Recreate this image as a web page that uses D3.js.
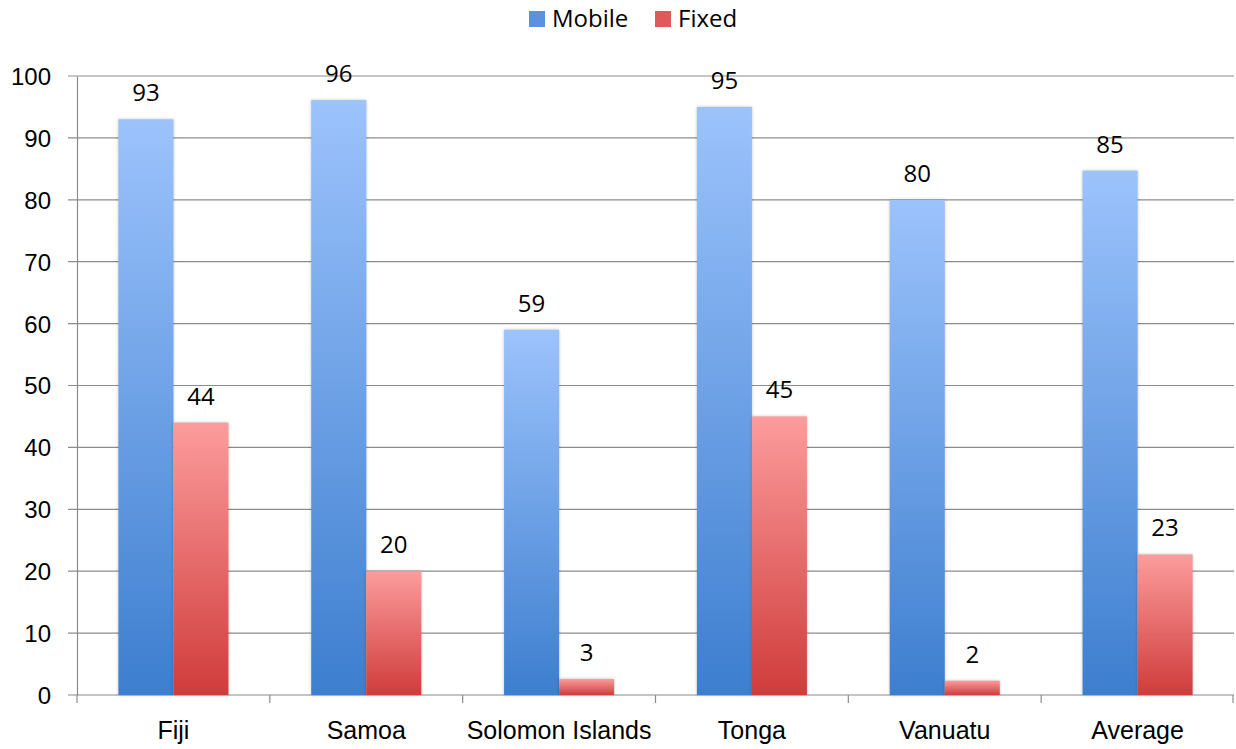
<!DOCTYPE html>
<html>
<head>
<meta charset="utf-8">
<script src="https://cdnjs.cloudflare.com/ajax/libs/d3/7.8.5/d3.min.js"></script>
<style>
  html, body { margin: 0; padding: 0; background: #fff; }
  svg { display: block; font-family: "Open Sans", "Noto Sans", sans-serif; }
</style>
</head>
<body>
<svg id="chart" width="1236" height="749"></svg>
<script>
// Mobile vs fixed connection figures for Pacific island countries
const categories = ["Fiji", "Samoa", "Solomon Islands", "Tonga", "Vanuatu", "Average"];
const seriesNames = ["Mobile", "Fixed"];
const mobile = [93, 96.1, 59, 95, 80, 84.7];
const fixed = [44, 20, 2.6, 45, 2.3, 22.7];
const yTicks = [0, 10, 20, 30, 40, 50, 60, 70, 80, 90, 100];

const svg = d3.select("#chart");
const margin = { left: 77, right: 2, top: 76, bottom: 54 };
const W = 1236, H = 749;

const x = d3.scaleBand().domain(categories).range([margin.left, W - margin.right]).paddingInner(0).paddingOuter(0);
const y = d3.scaleLinear().domain([0, 100]).range([H - margin.bottom, margin.top]);

const defs = svg.append("defs");
function grad(id, top, bottom) {
  const g = defs.append("linearGradient").attr("id", id).attr("x1", 0).attr("y1", 0).attr("x2", 0).attr("y2", 1);
  g.append("stop").attr("offset", "0%").attr("stop-color", top);
  g.append("stop").attr("offset", "100%").attr("stop-color", bottom);
}
grad("gMobile", "#9cc3fc", "#3d7ecf");
grad("gFixed", "#fc9c9c", "#cf3c3b");
const fills = { Mobile: "url(#gMobile)", Fixed: "url(#gFixed)" };
const swatch = { Mobile: "#5b92de", Fixed: "#e05a5a" };

// gridlines
svg.append("g").selectAll("line").data(yTicks).join("line")
  .attr("x1", margin.left - 9).attr("x2", W - margin.right)
  .attr("y1", d => y(d)).attr("y2", d => y(d))
  .attr("stroke", "#8c8c8c").attr("stroke-width", 1.2);

// y axis
const yAxis = d3.axisLeft(y).tickValues(yTicks).tickSize(0).tickPadding(26);
const yg = svg.append("g").attr("transform", `translate(${margin.left},0)`).call(yAxis);
yg.select(".domain").attr("stroke", "#8c8c8c").attr("stroke-width", 1.2);
yg.selectAll("text").attr("font-size", 24).attr("fill", "#000").attr("dy", "0.35em");

// x axis boundary ticks
const bounds = categories.map(c => x(c)).concat([W - margin.right - 1]);
svg.append("g").selectAll("line").data(bounds).join("line")
  .attr("x1", d => d).attr("x2", d => d)
  .attr("y1", y(0)).attr("y2", y(0) + 8)
  .attr("stroke", "#8c8c8c").attr("stroke-width", 1.2);

const xg = svg.append("g").attr("transform", `translate(0,${y(0)})`)
  .call(d3.axisBottom(x).tickSize(0).tickPadding(26));
xg.select(".domain").remove();
xg.selectAll("text").attr("font-size", 25).attr("fill", "#000");

// bars
const barW = 55;
const xs = d3.scaleBand().domain(seriesNames).range([0, barW * 2]);
const rows = categories.map((c, i) => ({ c, vals: [{ s: "Mobile", v: mobile[i] }, { s: "Fixed", v: fixed[i] }] }));
const fmt = d3.format(".0f");

const grp = svg.append("g").selectAll("g").data(rows).join("g")
  .attr("transform", d => `translate(${x(d.c) + x.bandwidth() / 2 - barW},0)`);

grp.selectAll("rect").data(d => d.vals).join("rect")
  .attr("x", d => xs(d.s)).attr("width", xs.bandwidth())
  .attr("y", d => y(d.v)).attr("height", d => y(0) - y(d.v))
  .attr("fill", d => fills[d.s])
  .style("filter", "drop-shadow(0px 0px 1.5px rgba(0,0,0,0.25))");

grp.selectAll("text").data(d => d.vals).join("text")
  .attr("x", d => xs(d.s) + xs.bandwidth() / 2)
  .attr("y", d => y(d.v) - 18)
  .attr("text-anchor", "middle")
  .attr("font-size", 24).attr("fill", "#000")
  .text(d => fmt(d.v));

// legend
const legend = svg.append("g").attr("transform", "translate(529,19)");
const items = [{ s: "Mobile", x: 0 }, { s: "Fixed", x: 126 }];
const li = legend.selectAll("g").data(items).join("g").attr("transform", d => `translate(${d.x},0)`);
li.append("rect").attr("x", 0).attr("y", -8).attr("width", 16).attr("height", 16)
  .attr("fill", d => swatch[d.s]);
li.append("text").attr("x", 23).attr("y", 0).attr("dy", "0.35em")
  .attr("font-size", 24).attr("fill", "#000").text(d => d.s);
</script>
</body>
</html>
